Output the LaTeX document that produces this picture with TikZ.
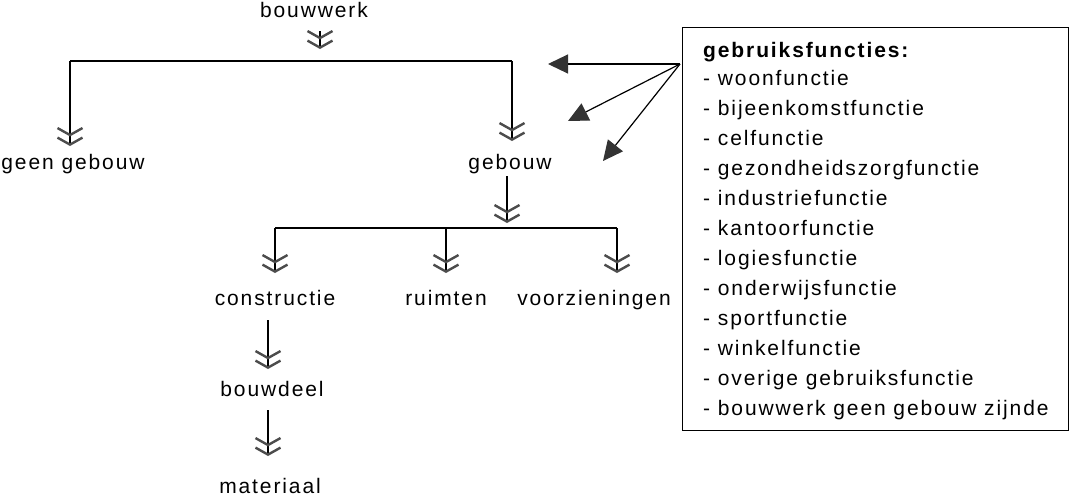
\documentclass[tikz,border=0pt]{standalone}
\usepackage{fontspec}
\setmainfont{Liberation Sans}[LetterSpace=9]
\usetikzlibrary{arrows.meta}
\begin{document}
\begin{tikzpicture}[x=1pt,y=-1pt,
  lbl/.style={anchor=base, inner sep=0pt, font=\fontsize{21}{24}\selectfont},
  item/.style={anchor=base west, inner sep=0pt, font=\fontsize{21}{24}\selectfont},
  ln/.style={line width=1.2pt},
  chev/.style={line width=1.2pt, -{Straight Barb[length=7pt,width=25pt,line width=2.4pt,color=black!70] Straight Barb[length=7pt,width=25pt,line width=2.4pt,color=black!70]}},
  tri/.style={line width=1.2pt, -{Triangle[length=20pt,width=19pt,color=black!80]}}
]
\useasboundingbox (0,0) rectangle (1071,496);
% labels
\node[lbl] (bouwwerk) at (314,17) {bouwwerk};
\node[lbl] (geen) at (73,169) {geen gebouw};
\node[lbl] (gebouw) at (510,169) {gebouw};
\node[lbl] (constructie) at (275,305) {constructie};
\node[lbl] (ruimten) at (446,305) {ruimten};
\node[lbl] (voorz) at (594,305) {voorzieningen};
\node[lbl] (bouwdeel) at (272,396) {bouwdeel};
\node[lbl] (materiaal) at (270,493) {materiaal};
% coordinates
\coordinate (c0) at (320,31);
\coordinate (c0e) at (320,49);
\coordinate (h1l) at (70,61);
\coordinate (h1r) at (512,61);
\coordinate (tgeen) at (70,146);
\coordinate (tgeb) at (512,141);
\coordinate (g0) at (507,176);
\coordinate (g0e) at (507,223);
\coordinate (h2l) at (275,228);
\coordinate (h2m) at (446,228);
\coordinate (h2r) at (617,228);
\coordinate (tcon) at (275,273);
\coordinate (truim) at (446,273);
\coordinate (tvoor) at (617,273);
\coordinate (b0) at (268,320);
\coordinate (b0e) at (268,369);
\coordinate (m0) at (268,410);
\coordinate (m0e) at (268,456);
% connectors
\draw[chev] (c0) -- (c0e);
\draw[ln] (h1l) -- (h1r);
\draw[chev] (h1l) -- (tgeen);
\draw[chev] (h1r) -- (tgeb);
\draw[chev] (g0) -- (g0e);
\draw[ln] (h2l) -- (h2r);
\draw[chev] (h2l) -- (tcon);
\draw[chev] (h2m) -- (truim);
\draw[chev] (h2r) -- (tvoor);
\draw[chev] (b0) -- (b0e);
\draw[chev] (m0) -- (m0e);
% box
\node[draw, line width=1.2pt, anchor=north west, inner sep=0pt, minimum width=386pt, minimum height=403pt] (box) at (682,27) {};
\node[item] (head) at (703,57) {\bfseries gebruiksfuncties:};
\node[item] (f1) at (703,85) {- woonfunctie};
\node[item] (f2) at (703,115) {- bijeenkomstfunctie};
\node[item] (f3) at (703,145) {- celfunctie};
\node[item] (f4) at (703,175) {- gezondheidszorgfunctie};
\node[item] (f5) at (703,205) {- industriefunctie};
\node[item] (f6) at (703,235) {- kantoorfunctie};
\node[item] (f7) at (703,265) {- logiesfunctie};
\node[item] (f8) at (703,295) {- onderwijsfunctie};
\node[item] (f9) at (703,325) {- sportfunctie};
\node[item] (f10) at (703,355) {- winkelfunctie};
\node[item] (f11) at (703,385) {- overige gebruiksfunctie};
\node[item] (f12) at (703,415) {- bouwwerk geen gebouw zijnde};
% arrows from box
\coordinate (src) at (680,64);
\coordinate (t1) at (548,64);
\coordinate (t2) at (568,121);
\coordinate (t3) at (603,161);
\draw[tri] (src) -- (t1);
\draw[tri] (src) -- (t2);
\draw[tri] (src) -- (t3);
\end{tikzpicture}
\end{document}
